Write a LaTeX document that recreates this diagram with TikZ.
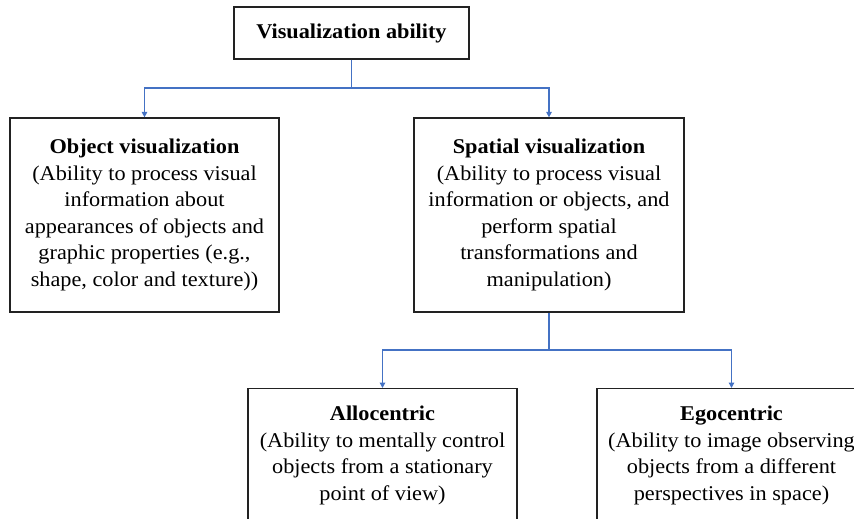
\documentclass[tikz,border=0pt]{standalone}
\usepackage{fontspec}
\setmainfont{Liberation Serif}[FakeStretch=1.06]
\usepackage{tikz}
\usetikzlibrary{arrows.meta}
\definecolor{linkblue}{HTML}{4472C4}
\definecolor{boxgray}{HTML}{222222}

\begin{document}
\begin{tikzpicture}[x=1pt,y=-1pt,
    box/.style={draw=boxgray,line width=1.3pt,fill=white,align=center,
      inner sep=0pt,font=\fontsize{21pt}{26.6pt}\selectfont},
    link/.style={linkblue,line width=1.4pt},
    arrow/.style={link,-{Triangle[width=5.5pt,length=5.5pt]}}]
  \useasboundingbox (0,0) rectangle (854,519);
  \fill[white] (0,0) rectangle (854,519);
  \clip (0,0) rectangle (854,519);
  \node[box,minimum width=235pt,minimum height=52pt] (vis) at (351.5,33)
    {\textbf{Visualization ability}};
  \node[box,minimum width=269pt,minimum height=194pt] (objvis) at (144.5,215)
    {\textbf{Object visualization}\\(Ability to process visual\\information about\\
     appearances of objects and\\graphic properties (e.g.,\\shape, color and texture))};
  \node[box,minimum width=270pt,minimum height=194pt] (spavis) at (549,215)
    {\textbf{Spatial visualization}\\(Ability to process visual\\information or objects, and\\
     perform spatial\\transformations and\\manipulation)};
  \node[box,anchor=north,minimum width=269pt,inner ysep=17.5pt,text depth=90pt] (allo) at (382.5,388)
    {\textbf{Allocentric}\\(Ability to mentally control\\objects from a stationary\\point of view)};
  \node[box,anchor=north,minimum width=269pt,inner ysep=17.5pt,text depth=90pt] (ego) at (731.5,388)
    {\textbf{Egocentric}\\(Ability to image observing\\objects from a different\\perspectives in space)};
  \coordinate (split1) at (351.5,88);
  \coordinate (split2) at (549,350);
  \draw[link] (vis.south) -- (split1);
  \draw[arrow] (split1) -| (objvis.north);
  \draw[arrow] (split1) -| (spavis.north);
  \draw[link] (spavis.south) -- (split2);
  \draw[arrow] (split2) -| (allo.north);
  \draw[arrow] (split2) -| (ego.north);
\end{tikzpicture}
\end{document}
